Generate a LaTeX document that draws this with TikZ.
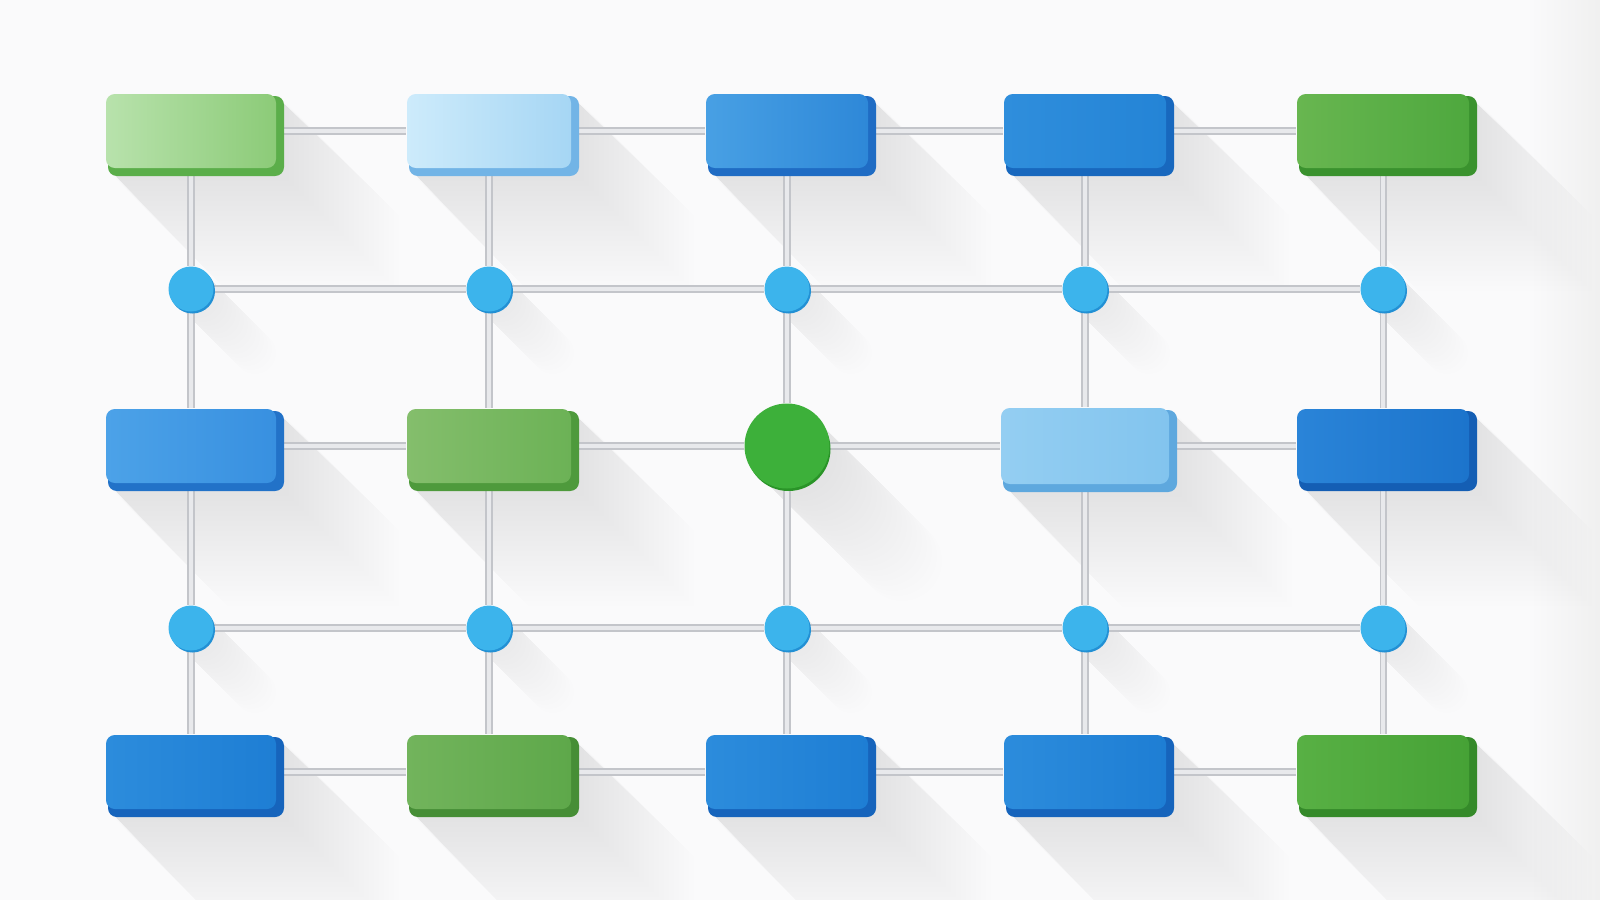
\documentclass[tikz,border=0pt]{standalone}
\usetikzlibrary{calc}
\pgfdeclarelayer{bgl}
\pgfdeclarelayer{shadowl}
\pgfdeclarelayer{linel}
\pgfsetlayers{bgl,shadowl,linel,main}
\definecolor{bgc}{HTML}{FAFAFB}
\definecolor{lineo}{HTML}{C3C5CA}
\definecolor{linei}{HTML}{E8E9EC}
\definecolor{dotc}{HTML}{3CB4EC}
\definecolor{dotr}{HTML}{2290D4}
\definecolor{gcirc}{HTML}{3DB03A}
\definecolor{gcircr}{HTML}{2A9428}
% box colours: L = left, R = right, S = side
\definecolor{aL}{HTML}{B8E2AC}\definecolor{aR}{HTML}{8CCB78}\definecolor{aS}{HTML}{5BAE4A}
\definecolor{bL}{HTML}{CDEBFB}\definecolor{bR}{HTML}{A6D6F4}\definecolor{bS}{HTML}{72B4E6}
\definecolor{cL}{HTML}{48A0E4}\definecolor{cR}{HTML}{2E88D8}\definecolor{cS}{HTML}{1F6CC4}
\definecolor{dL}{HTML}{2F8EDC}\definecolor{dR}{HTML}{2484D6}\definecolor{dS}{HTML}{1868BE}
\definecolor{eL}{HTML}{68B650}\definecolor{eR}{HTML}{4EA83E}\definecolor{eS}{HTML}{3A922E}
\definecolor{fL}{HTML}{4CA2E8}\definecolor{fR}{HTML}{3890E0}\definecolor{fS}{HTML}{2272C8}
\definecolor{gL}{HTML}{84BE6C}\definecolor{gR}{HTML}{6CB256}\definecolor{gS}{HTML}{4E9A3C}
\definecolor{hL}{HTML}{94CEF2}\definecolor{hR}{HTML}{82C4EE}\definecolor{hS}{HTML}{5EA8DE}
\definecolor{iL}{HTML}{2A84D8}\definecolor{iR}{HTML}{1C74CC}\definecolor{iS}{HTML}{145EB4}
\definecolor{jL}{HTML}{2C8CDC}\definecolor{jR}{HTML}{1E7ED4}\definecolor{jS}{HTML}{1664BC}
\definecolor{kL}{HTML}{72B45C}\definecolor{kR}{HTML}{5EA84A}\definecolor{kS}{HTML}{468E36}
\definecolor{lL}{HTML}{58B044}\definecolor{lR}{HTML}{46A236}\definecolor{lS}{HTML}{358A2A}
\tikzset{
  face/.style={rectangle, rounded corners=2.5pt, inner sep=0pt, draw=none},
  dotnode/.style={circle, inner sep=0pt, minimum size=45*0.01cm, fill=dotc},
  bignode/.style={circle, inner sep=0pt, minimum size=85*0.01cm, fill=gcirc},
  conn/.style={line width=0.55pt, draw=lineo, double=linei, double distance=0.9pt},
  shad/.style={black, opacity=0.0055},
}
% name, x, y, w, h, colour prefix
\newcommand{\mkbox}[6]{%
  \pgfmathsetmacro\xa{#2-#4/2}\pgfmathsetmacro\xb{#2+#4/2+8}%
  \pgfmathsetmacro\ya{#3-#5/2}\pgfmathsetmacro\yb{#3+#5/2+8}%
  \begin{pgfonlayer}{shadowl}
    \foreach \L in {5,10,...,115}{%
      \fill[shad] (\xb-4,\ya+6) -- (\xb+\L,\ya+\L+6) -- (\xb+\L,\yb+\L) -- (\xa+\L+6,\yb+\L) -- (\xa+6,\yb-4) -- cycle;}
  \end{pgfonlayer}
  \fill[#6S, rounded corners=2.5pt] (\xa+2,\ya+2) rectangle (\xb,\yb);
  \node[face, minimum width={#4*0.01cm}, minimum height={#5*0.01cm}, left color=#6L, right color=#6R] (#1) at (#2,#3) {};
}
% name, x, y
\newcommand{\mkdot}[3]{%
  \begin{pgfonlayer}{shadowl}
    \foreach \L in {4,8,...,64}{%
      \draw[shad,line width={42*0.01cm},line cap=round] (#2+2,#3+2) -- (#2+\L,#3+\L);}
  \end{pgfonlayer}
  \fill[dotr] (#2+1.5,#3+2) circle (22.5);
  \node[dotnode] (#1) at (#2,#3) {};
}
\begin{document}
\begin{tikzpicture}[x=0.01cm,y=-0.01cm]
\useasboundingbox (0,0) rectangle (1600,900);
\begin{pgfonlayer}{bgl}
\fill[bgc] (0,0) rectangle (1600,900);
\shade[left color=bgc, right color=black!6] (1530,0) rectangle (1600,900);
\end{pgfonlayer}

% top row
\mkbox{r1c1}{191}{131}{170}{74}{a}
\mkbox{r1c2}{489}{131}{164}{74}{b}
\mkbox{r1c3}{787}{131}{162}{74}{c}
\mkbox{r1c4}{1085}{131}{162}{74}{d}
\mkbox{r1c5}{1383}{131}{172}{74}{e}
% first row of dots
\mkdot{n1c1}{191}{289}
\mkdot{n1c2}{489}{289}
\mkdot{n1c3}{787}{289}
\mkdot{n1c4}{1085}{289}
\mkdot{n1c5}{1383}{289}
% middle row
\mkbox{r2c1}{191}{446}{170}{74}{f}
\mkbox{r2c2}{489}{446}{164}{74}{g}
\begin{pgfonlayer}{shadowl}
  \foreach \L in {5,10,...,115}{%
    \draw[shad,line width={80*0.01cm},line cap=round] (789,449) -- (787+\L,446+\L);}
\end{pgfonlayer}
\fill[gcircr] (788.5,449) circle (42);
\node[bignode] (g) at (787,446) {};
\mkbox{r2c4}{1085}{446}{168}{76}{h}
\mkbox{r2c5}{1383}{446}{172}{74}{i}
% second row of dots
\mkdot{n2c1}{191}{628}
\mkdot{n2c2}{489}{628}
\mkdot{n2c3}{787}{628}
\mkdot{n2c4}{1085}{628}
\mkdot{n2c5}{1383}{628}
% bottom row
\mkbox{r3c1}{191}{772}{170}{74}{j}
\mkbox{r3c2}{489}{772}{164}{74}{k}
\mkbox{r3c3}{787}{772}{162}{74}{j}
\mkbox{r3c4}{1085}{772}{162}{74}{j}
\mkbox{r3c5}{1383}{772}{172}{74}{l}

\begin{pgfonlayer}{linel}
  \draw[conn] (r1c1) -- (r1c2) -- (r1c3) -- (r1c4) -- (r1c5);
  \draw[conn] (n1c1) -- (n1c2) -- (n1c3) -- (n1c4) -- (n1c5);
  \draw[conn] (r2c1) -- (r2c2) -- (g) -- (r2c4) -- (r2c5);
  \draw[conn] (n2c1) -- (n2c2) -- (n2c3) -- (n2c4) -- (n2c5);
  \draw[conn] (r3c1) -- (r3c2) -- (r3c3) -- (r3c4) -- (r3c5);
  \draw[conn] (r1c1) -- (n1c1) -- (r2c1) -- (n2c1) -- (r3c1);
  \draw[conn] (r1c2) -- (n1c2) -- (r2c2) -- (n2c2) -- (r3c2);
  \draw[conn] (r1c3) -- (n1c3) -- (g) -- (n2c3) -- (r3c3);
  \draw[conn] (r1c4) -- (n1c4) -- (r2c4) -- (n2c4) -- (r3c4);
  \draw[conn] (r1c5) -- (n1c5) -- (r2c5) -- (n2c5) -- (r3c5);
\end{pgfonlayer}
\end{tikzpicture}
\end{document}
